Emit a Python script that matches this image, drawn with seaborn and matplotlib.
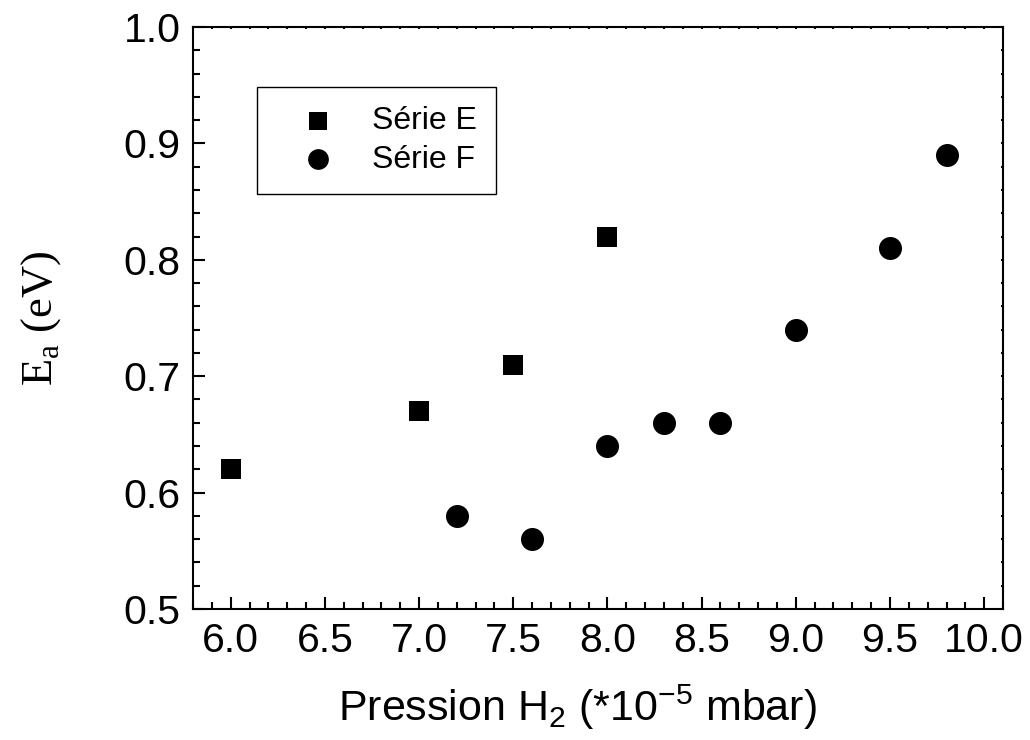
import matplotlib
matplotlib.use('Agg')
import matplotlib.pyplot as plt
from matplotlib.ticker import MultipleLocator, FormatStrFormatter
import seaborn as sns
import pandas as pd

# Série E (carrés)
pression_e = [6.0, 7.0, 7.5, 8.0]
ea_e = [0.62, 0.67, 0.71, 0.82]

# Série F (cercles)
pression_f = [7.2, 7.6, 8.0, 8.3, 8.6, 9.0, 9.5, 9.8]
ea_f = [0.58, 0.56, 0.64, 0.66, 0.66, 0.74, 0.81, 0.89]

df_e = pd.DataFrame({'Pression': pression_e, 'Ea': ea_e})
df_f = pd.DataFrame({'Pression': pression_f, 'Ea': ea_f})

sns.set_style('ticks')
plt.rcParams['font.family'] = ['Liberation Sans', 'DejaVu Sans']
plt.rcParams['mathtext.fontset'] = 'custom'
plt.rcParams['mathtext.rm'] = 'Liberation Sans'
plt.rcParams['text.color'] = 'black'
plt.rcParams['axes.labelcolor'] = 'black'
plt.rcParams['xtick.color'] = 'black'
plt.rcParams['ytick.color'] = 'black'

fig = plt.figure(figsize=(10.3, 7.4), dpi=100)
ax = fig.add_axes([0.1874, 0.177, 0.7864, 0.7865])

sns.scatterplot(data=df_e, x='Pression', y='Ea', marker='s', s=210, color='black',
                linewidth=0, label='Série E', ax=ax)
sns.scatterplot(data=df_f, x='Pression', y='Ea', marker='o', s=275, color='black',
                linewidth=0, label='Série F', ax=ax)

ax.set_xlim(5.8, 10.1)
ax.set_ylim(0.5, 1.0)
ax.xaxis.set_major_locator(MultipleLocator(0.5))
ax.xaxis.set_minor_locator(MultipleLocator(0.1))
ax.yaxis.set_major_locator(MultipleLocator(0.1))
ax.yaxis.set_minor_locator(MultipleLocator(0.02))
ax.xaxis.set_major_formatter(FormatStrFormatter('%.1f'))
ax.yaxis.set_major_formatter(FormatStrFormatter('%.1f'))

for sp in ax.spines.values():
    sp.set_visible(True)
    sp.set_linewidth(1.5)
    sp.set_color('black')

ax.tick_params(which='major', direction='in', length=8.5, width=1.5, labelsize=29.5,
               labelcolor='black', color='black', pad=9, top=True, right=True)
ax.tick_params(which='minor', direction='in', length=4.8, width=1.5, color='black',
               top=True, right=True)
# petits traits sur les axes du haut et de droite
for t in ax.xaxis.get_major_ticks() + ax.xaxis.get_minor_ticks():
    t.tick2line.set_markersize(1.5)
for t in ax.yaxis.get_major_ticks() + ax.yaxis.get_minor_ticks():
    t.tick2line.set_markersize(1.5)

ax.set_xlabel(r'Pression H$_\mathregular{2}$ (*10$^\mathregular{-5}$ mbar)', fontsize=31)
ax.set_ylabel(r'E$_\mathregular{a}$ (eV)', fontsize=32, family=['Liberation Serif'])
ax.xaxis.set_label_coords(0.474, -0.127)
ax.yaxis.set_label_coords(-0.16, 0.5)

leg = ax.legend(loc='upper left', bbox_to_anchor=(0.079, 0.897), borderaxespad=0,
                fontsize=23, frameon=True, fancybox=False, edgecolor='black',
                borderpad=0.6, handlelength=2.6, handletextpad=0.39,
                labelspacing=0.27, markerscale=0.9)
leg.get_frame().set_linewidth(1.0)
leg.get_frame().set_alpha(1)

fig.savefig('out.png', dpi=100)
